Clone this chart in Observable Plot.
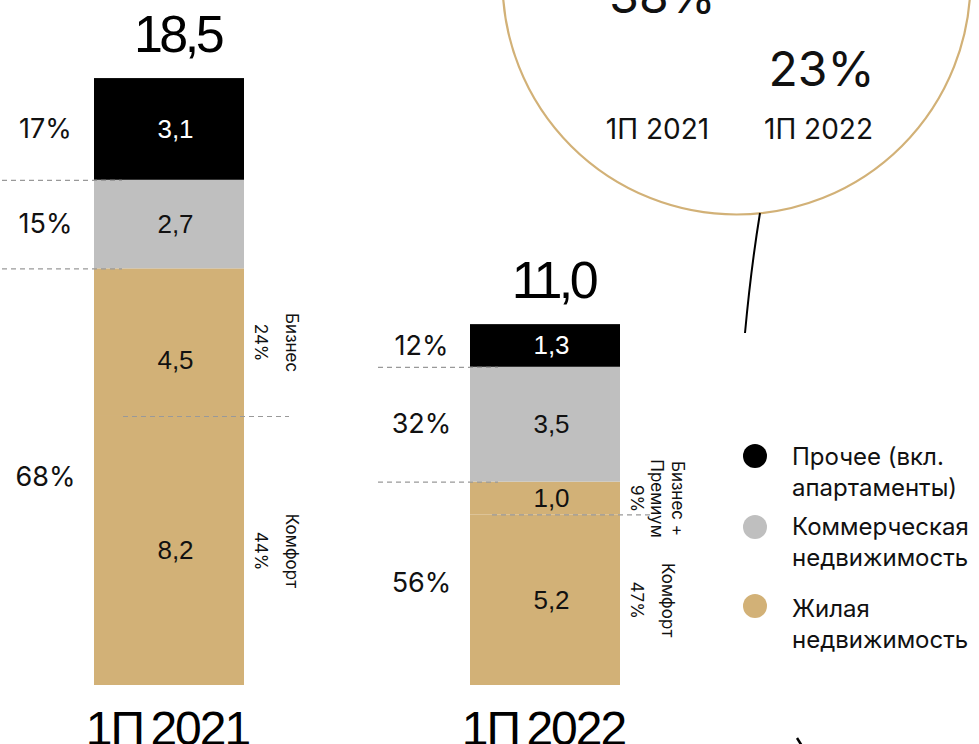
<!DOCTYPE html>
<html><head><meta charset="utf-8">
<script src="https://cdn.jsdelivr.net/npm/d3@7"></script>
<script src="https://cdn.jsdelivr.net/npm/@observablehq/plot@0.6"></script>
<style>
html,body{margin:0;padding:0;background:#fff;overflow:hidden}
#chart{position:relative;width:979px;height:744px;overflow:hidden}
#chart svg{position:absolute;left:0;top:0}
g[font-size="52"] text{letter-spacing:-3.5px}
g[font-size="48"][font-family^="Liberation"] text{letter-spacing:-2px;word-spacing:-4px}
.legend-item{position:absolute;left:743px;font-family:Inter,sans-serif;font-size:24px;line-height:31px;color:#111}
.legend-item .dot{position:absolute;left:0;width:24px;height:24px;border-radius:50%}
.legend-item .lbl{position:absolute;left:49px;top:0;white-space:pre}
</style></head>
<body><div id="chart"></div>
<script>
// ---- data ----
const periods = ["1П 2021", "1П 2022"];
const totals = [18.5, 11.0];
const segments = ["Комфорт", "Бизнес", "Коммерческая", "Прочее"];
const comfort = [8.2, 5.2];
const business = [4.5, 1.0];
const commercial = [2.7, 3.5];
const other = [3.1, 1.3];
const otherShare = ["17%", "12%"];
const commercialShare = ["15%", "32%"];
const residentialShare = ["68%", "56%"];
const businessShare = ["24%", "9%"];
const comfortShare = ["44%", "47%"];
const businessLabel = ["Бизнес", "Бизнес +\nПремиум"];
const comfortLabel = ["Комфорт", "Комфорт"];
const circleValues = ["38%", "23%"];
const circlePeriods = ["1П 2021", "1П 2022"];
const legendLabels = ["Прочее (вкл.\nапартаменты)", "Коммерческая\nнедвижимость", "Жилая\nнедвижимость"];

// ---- styles ----
const TAN = "#D2B177", GRAY = "#BFBFBF", BLACK = "#000000";
const NUM = "Liberation Sans, Arial, sans-serif";
const TXT = "Inter, sans-serif";
const fmt = v => d3.format(".1f")(v).replace(".", ",");

// ---- derived tables ----
const seriesValues = [comfort, business, commercial, other];
const rows = periods.flatMap((p, i) => {
  let acc = 0;
  return segments.map((s, j) => {
    const v = seriesValues[j][i];
    const r = {period: p, segment: s, value: v, y1: acc, y2: acc + v};
    acc += v;
    return r;
  });
});
const bounds = periods.map((p, i) => {
  const res = comfort[i] + business[i];
  const com = res + commercial[i];
  return {period: p, total: totals[i], comfortTop: comfort[i], resTop: res, comTop: com, top: com + other[i]};
});
const shareRows = bounds.flatMap((b, i) => [
  {period: b.period, label: otherShare[i], y: (b.comTop + b.top) / 2},
  {period: b.period, label: commercialShare[i], y: (b.resTop + b.comTop) / 2},
  {period: b.period, label: residentialShare[i], y: b.resTop / 2}
]);
const subRows = bounds.flatMap((b, i) => [
  {period: b.period, name: businessLabel[i], pct: businessShare[i], y: (b.comfortTop + b.resTop) / 2},
  {period: b.period, name: comfortLabel[i], pct: comfortShare[i], y: b.comfortTop / 2}
]);
const leftRules = bounds.flatMap(b => [{period: b.period, y: b.resTop}, {period: b.period, y: b.comTop}]);

const connector = () => {
  const g = d3.create("svg:g");
  g.append("path").attr("d", "M760,213 Q751,268 745,333").attr("fill", "none").attr("stroke", "#000").attr("stroke-width", 2);
  g.append("path").attr("d", "M797,738 L802,746").attr("fill", "none").attr("stroke", "#000").attr("stroke-width", 2.5);
  return g.node();
};

const isOther = d => d.segment === "Прочее";
const isBiz21 = d => d.segment === "Бизнес" && d.period === periods[0];
const mid = d => (d.y1 + d.y2) / 2;
const valueText = {x: "period", y: mid, text: d => fmt(d.value), dx: 6, fontSize: 26, fontFamily: NUM};

const plot = Plot.plot({
  width: 979,
  height: 744,
  marginTop: 0, marginRight: 0, marginBottom: 59, marginLeft: 0,
  style: {fontFamily: TXT, background: "#fff", overflow: "hidden"},
  x: {domain: periods, range: [93, 620], paddingInner: 0.602, paddingOuter: 0, axis: null},
  y: {domain: [0, 20.88], axis: null},
  color: {domain: segments, range: [TAN, TAN, GRAY, BLACK]},
  marks: [
    // callout circle
    Plot.dot([0], {frameAnchor: "top-left", dx: 736, dy: -20, r: 234, stroke: TAN, strokeWidth: 2.2, fill: "none"}),
    Plot.text([circleValues[0]], {frameAnchor: "top-left", dx: 662, dy: 12, text: d => d, textAnchor: "middle", lineAnchor: "bottom", fontSize: 48, fontFamily: TXT, fill: "#111"}),
    Plot.text([circleValues[1]], {frameAnchor: "top-left", dx: 821, dy: 85, text: d => d, textAnchor: "middle", lineAnchor: "bottom", fontSize: 48, fontFamily: TXT, fill: "#111"}),
    Plot.text([circlePeriods[0]], {frameAnchor: "top-left", dx: 657, dy: 138, text: d => d, textAnchor: "middle", lineAnchor: "bottom", fontSize: 28, fontFamily: TXT, fill: "#111"}),
    Plot.text([circlePeriods[1]], {frameAnchor: "top-left", dx: 818, dy: 138, text: d => d, textAnchor: "middle", lineAnchor: "bottom", fontSize: 28, fontFamily: TXT, fill: "#111"}),
    connector,
    // bars
    Plot.barY(rows, {x: "period", y1: "y1", y2: "y2", fill: "segment"}),
    // values inside bars
    Plot.text(rows, {...valueText, filter: d => !isOther(d) && !isBiz21(d), fill: "#111"}),
    Plot.text(rows, {...valueText, filter: isBiz21, dy: 18, fill: "#111"}),
    Plot.text(rows, {...valueText, filter: isOther, fill: "#fff"}),
    // totals
    Plot.text(bounds, {x: "period", y: "total", text: d => fmt(d.total), lineAnchor: "bottom", dy: -27, dx: 8, fontSize: 52, fontFamily: NUM, fill: "#000"}),
    // shares to the left
    Plot.text(shareRows, {x: "period", y: "y", text: "label", dx: -124, fontSize: 27, fontFamily: TXT, fill: "#111"}),
    // dashed rules
    Plot.tickY(leftRules, {x: "period", y: "y", insetLeft: -92, insetRight: 122, stroke: "#999", strokeWidth: 1.2, strokeDasharray: "5,4"}),
    Plot.tickY(bounds, {filter: d => d.period === periods[0], x: "period", y: "comfortTop", insetLeft: 29, insetRight: -45, stroke: "#999", strokeWidth: 1.2, strokeDasharray: "5,4"}),
    Plot.tickY(bounds, {filter: d => d.period === periods[1], x: "period", y: "comfortTop", insetLeft: 22, insetRight: -30, stroke: "#999", strokeWidth: 1.2, strokeDasharray: "5,4"}),
    // rotated sub-labels
    Plot.text(subRows, {x: "period", y: "y", text: "pct", rotate: 90, dx: 91, fontSize: 17, fontFamily: TXT, fill: "#111"}),
    Plot.text(subRows, {x: "period", y: "y", text: "name", rotate: 90, dx: 123, lineHeight: 1.25, fontSize: 17, fontFamily: TXT, fill: "#111"}),
    // period labels
    Plot.text(periods, {x: d => d, text: d => d, frameAnchor: "bottom", lineAnchor: "top", dy: 25, dx: -2, fontSize: 48, fontFamily: NUM, fill: "#000"})
  ]
});

const chart = document.getElementById("chart");
chart.appendChild(plot);

// legend
const legendColors = [BLACK, GRAY, TAN];
const legendTops = [441, 511, 593];
const legendDotOffsets = [15, 16, 13];
legendLabels.forEach((label, i) => {
  const item = document.createElement("div");
  item.className = "legend-item";
  item.style.top = legendTops[i] + "px";
  const dot = document.createElement("span");
  dot.className = "dot";
  dot.style.background = legendColors[i];
  dot.style.top = (legendDotOffsets[i] - 12) + "px";
  const lbl = document.createElement("span");
  lbl.className = "lbl";
  lbl.textContent = label;
  item.appendChild(dot);
  item.appendChild(lbl);
  chart.appendChild(item);
});
</script>
</body></html>
